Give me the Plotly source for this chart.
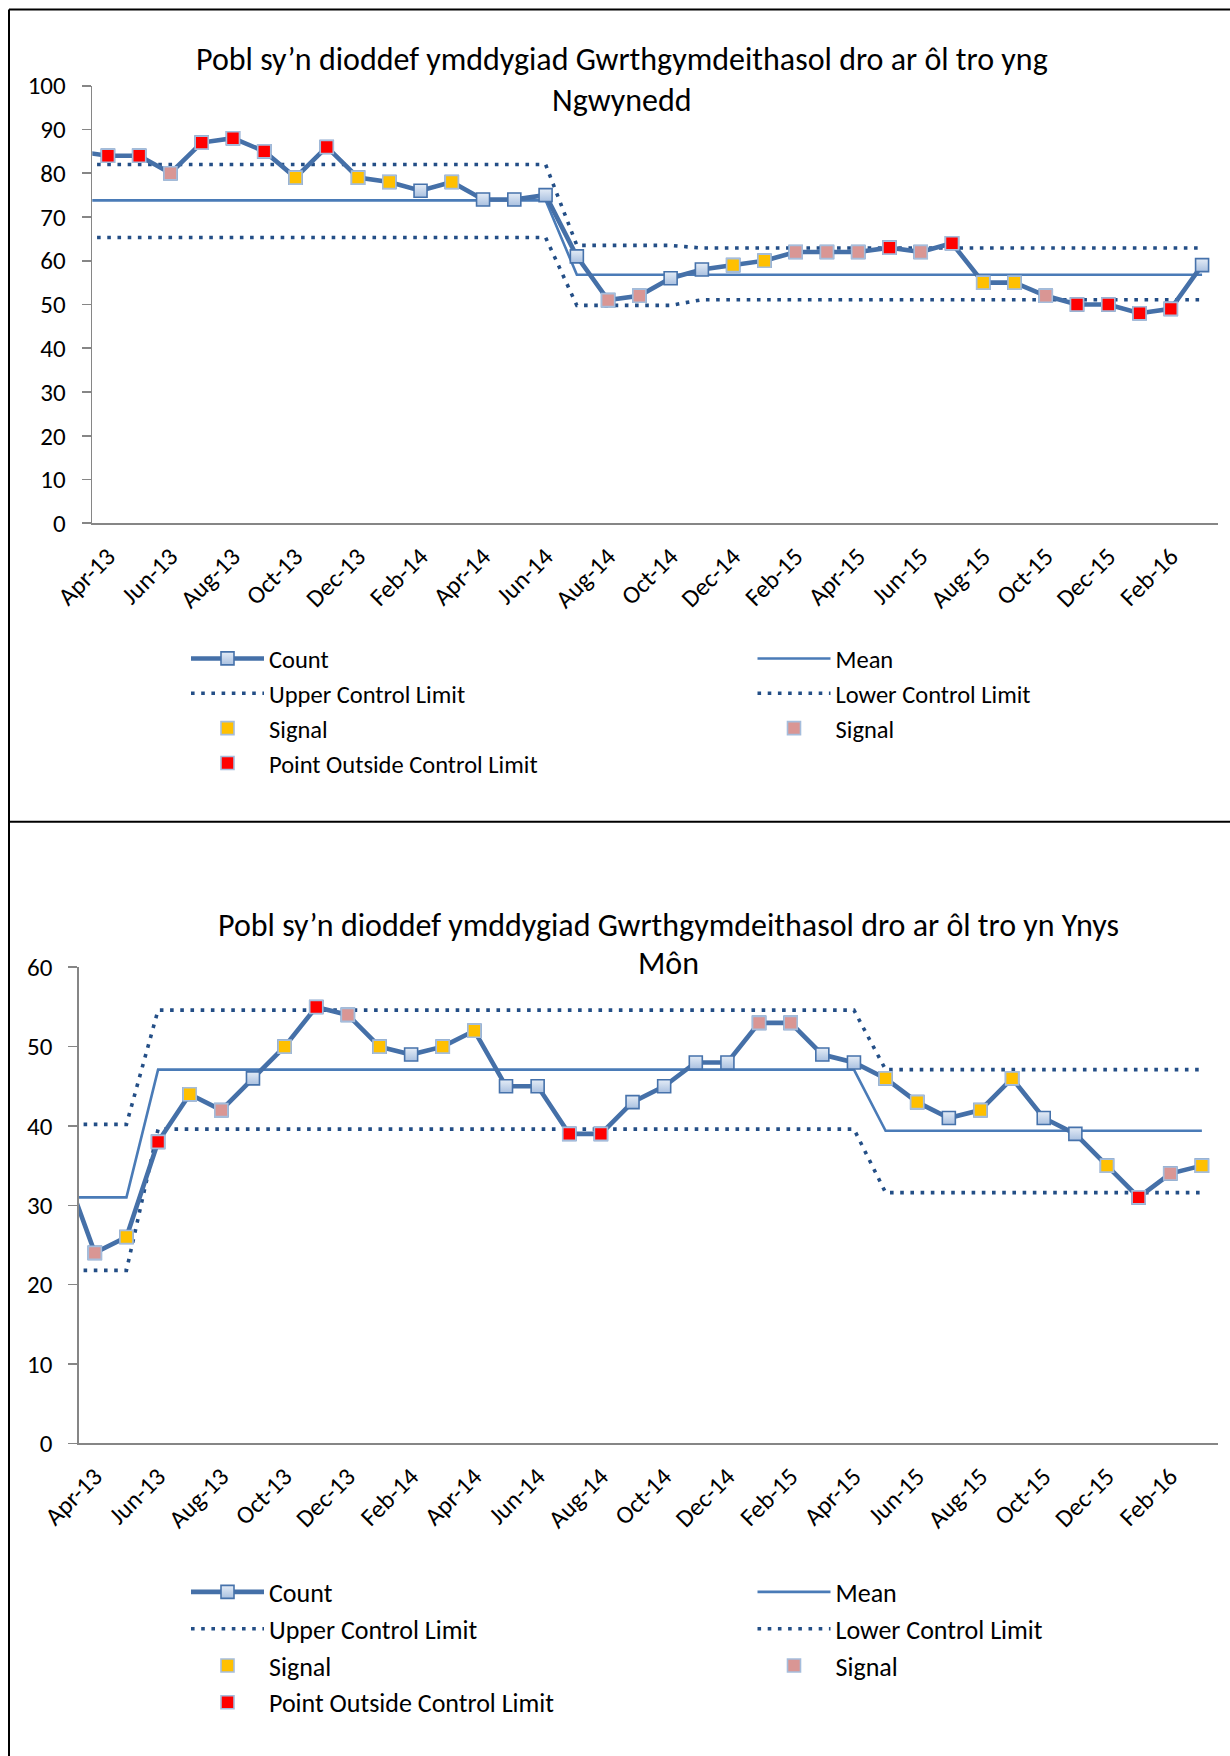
import plotly.graph_objects as go

# ---------------- data ----------------
# first category (Mar-13) is the clipped lead-in point that sits left of the y axis
months = ["Mar-13", "Apr-13", "May-13", "Jun-13", "Jul-13", "Aug-13", "Sep-13", "Oct-13", "Nov-13", "Dec-13",
          "Jan-14", "Feb-14", "Mar-14", "Apr-14", "May-14", "Jun-14", "Jul-14", "Aug-14", "Sep-14", "Oct-14",
          "Nov-14", "Dec-14", "Jan-15", "Feb-15", "Mar-15", "Apr-15", "May-15", "Jun-15", "Jul-15", "Aug-15",
          "Sep-15", "Oct-15", "Nov-15", "Dec-15", "Jan-16", "Feb-16", "Mar-16"]
tick_labels = ["Apr-13", "Jun-13", "Aug-13", "Oct-13", "Dec-13", "Feb-14", "Apr-14", "Jun-14", "Aug-14",
               "Oct-14", "Dec-14", "Feb-15", "Apr-15", "Jun-15", "Aug-15", "Oct-15", "Dec-15", "Feb-16"]

# Gwynedd
count_gwynedd = [85, 84, 84, 80, 87, 88, 85, 79, 86, 79, 78, 76, 78, 74, 74, 75, 61, 51, 52, 56, 58,
                 59, 60, 62, 62, 62, 63, 62, 64, 55, 55, 52, 50, 50, 48, 49, 59]
mean_gwynedd = [73.8] * 16 + [56.8] * 21
ucl_gwynedd = [82.0] * 16 + [63.5] * 4 + [62.9] * 17
lcl_gwynedd = [65.3] * 16 + [49.8] * 4 + [51.1] * 17
# Y = signal (yellow), P = signal (pink), R = point outside control limit, B = plain count
flags_gwynedd = ["", "R", "R", "P", "R", "R", "R", "Y", "R", "Y", "Y", "B", "Y", "B", "B", "B", "B", "P", "P",
                 "B", "B", "Y", "Y", "P", "P", "P", "R", "P", "R", "Y", "Y", "P", "R", "R", "R", "R", "B"]

# Ynys Mon
count_mon = [35, 24, 26, 38, 44, 42, 46, 50, 55, 54, 50, 49, 50, 52, 45, 45, 39, 39, 43, 45, 48,
             48, 53, 53, 49, 48, 46, 43, 41, 42, 46, 41, 39, 35, 31, 34, 35]
mean_mon = [31.0] * 3 + [47.1] * 23 + [39.4] * 11
ucl_mon = [40.2] * 3 + [54.6] * 23 + [47.1] * 11
lcl_mon = [21.8] * 3 + [39.6] * 23 + [31.6] * 11
flags_mon = ["", "P", "Y", "R", "Y", "P", "B", "Y", "R", "P", "Y", "B", "Y", "Y", "B", "B", "R", "R", "B",
             "B", "B", "B", "P", "P", "B", "B", "Y", "Y", "B", "Y", "Y", "B", "B", "Y", "R", "P", "Y"]

titles = [["Pobl sy\u2019n dioddef ymddygiad Gwrthgymdeithasol dro ar ôl tro yng", "Ngwynedd"],
          ["Pobl sy\u2019n dioddef ymddygiad Gwrthgymdeithasol dro ar ôl tro yn Ynys", "Môn"]]

# ---------------- styling ----------------
W, H = 1230, 1756
FONT = "Calibri, Carlito, Lato, sans-serif"
COUNT_C = "#4570A8"
MEAN_C = "#4A7BB7"
LIMIT_C = "#234E86"
AXIS_C = "#868686"
MSIZE = 13
TICK_SIZE = 25
TITLE_SIZE = 32


def px_x(x):
    return x / W


def px_y(y):
    return 1 - y / H


charts = [
    dict(count=count_gwynedd, mean=mean_gwynedd, ucl=ucl_gwynedd, lcl=lcl_gwynedd, flags=flags_gwynedd,
         xa="x", ya="y", legs=("legend", "legend2"), ymax=100,
         xdom=[px_x(92.3), px_x(1217.7)], ydom=[px_y(523.3), px_y(85.7)],
         tcx=622, tcy=[59.8, 100.0], legy=636, legsize=24.5),
    dict(count=count_mon, mean=mean_mon, ucl=ucl_mon, lcl=lcl_mon, flags=flags_mon,
         xa="x2", ya="y2", legs=("legend3", "legend4"), ymax=60,
         xdom=[px_x(79.0), px_x(1217.7)], ydom=[px_y(1443.3), px_y(967.3)],
         tcx=668, tcy=[925.4, 963.5], legy=1568.5, legsize=26),
]

fig = go.Figure()
annotations = []
layout = {}

for i, c in enumerate(charts):
    left_leg, right_leg = c["legs"]
    base = dict(xaxis=c["xa"], yaxis=c["ya"], hoverinfo="skip")
    fig.add_trace(go.Scatter(x=months, y=c["mean"], mode="lines", name="Mean", legend=right_leg,
                             legendrank=2, line=dict(color=MEAN_C, width=2.6), **base))
    fig.add_trace(go.Scatter(x=months, y=c["ucl"], mode="lines", name="Upper Control Limit", legend=left_leg,
                             legendrank=3, line=dict(color=LIMIT_C, width=3.6, dash="3.6px,6.6px"), **base))
    fig.add_trace(go.Scatter(x=months, y=c["lcl"], mode="lines", name="Lower Control Limit", legend=right_leg,
                             legendrank=4, line=dict(color=LIMIT_C, width=3.6, dash="3.6px,6.6px"), **base))
    fig.add_trace(go.Scatter(x=months, y=c["count"], mode="lines+markers", name="Count", legend=left_leg,
                             legendrank=1, line=dict(color=COUNT_C, width=4.6),
                             marker=dict(symbol="square", size=MSIZE, color="#E4ECF6",
                                         gradient=dict(type="vertical", color="#A9C0E0"),
                                         line=dict(color="#4672AB", width=1.6)), **base))
    for flag, name, col, rank, leg in [("Y", "Signal", "#FFC000", 5, left_leg),
                                       ("P", "Signal", "#D99694", 6, right_leg),
                                       ("R", "Point Outside Control Limit", "#FF0000", 7, left_leg)]:
        ys = [v if f == flag else None for v, f in zip(c["count"], c["flags"])]
        fig.add_trace(go.Scatter(x=months, y=ys, mode="markers", name=name, legend=leg, legendrank=rank,
                                 marker=dict(symbol="square", size=MSIZE, color=col,
                                             line=dict(color="#A5BDDC", width=1.6)), **base))

    xkey = "xaxis" if i == 0 else "xaxis2"
    ykey = "yaxis" if i == 0 else "yaxis2"
    layout[xkey] = dict(type="category", domain=c["xdom"], range=[0.5, 36.5], anchor=c["ya"],
                        tickmode="array", tickvals=tick_labels, ticktext=tick_labels, tickangle=-45,
                        tickfont=dict(family=FONT, size=TICK_SIZE, color="black"), ticks="",
                        ticklabelstandoff=7, automargin=False,
                        showline=True, linecolor=AXIS_C, linewidth=1.6, showgrid=False, zeroline=False,
                        fixedrange=True)
    layout[ykey] = dict(domain=c["ydom"], range=[0, c["ymax"]], dtick=10, anchor=c["xa"],
                        ticks="outside", ticklen=9, tickcolor=AXIS_C, tickwidth=1.6,
                        tickfont=dict(family=FONT, size=TICK_SIZE, color="black"), ticklabelstandoff=11,
                        automargin=False,
                        showline=True, linecolor=AXIS_C, linewidth=1.6, showgrid=False, zeroline=False,
                        fixedrange=True)
    for leg, lx in [(left_leg, 186), (right_leg, 752.5)]:
        layout[leg] = dict(orientation="v", x=px_x(lx), y=px_y(c["legy"]), xanchor="left", yanchor="top",
                           itemwidth=73, traceorder="normal",
                           font=dict(family=FONT, size=c["legsize"], color="black"), bgcolor="rgba(0,0,0,0)",
                           itemclick=False, itemdoubleclick=False)
    for line_text, ty in zip(titles[i], c["tcy"]):
        annotations.append(dict(text=line_text, x=px_x(c["tcx"]), y=px_y(ty), xref="paper", yref="paper",
                                xanchor="center", yanchor="middle", showarrow=False,
                                font=dict(family=FONT, size=TITLE_SIZE, color="black")))

shapes = [
    dict(type="line", xref="paper", yref="paper", x0=px_x(9), x1=px_x(9), y0=px_y(9.5), y1=0,
         line=dict(color="black", width=2)),
    dict(type="line", xref="paper", yref="paper", x0=px_x(9), x1=1, y0=px_y(9.5), y1=px_y(9.5),
         line=dict(color="black", width=2)),
    dict(type="line", xref="paper", yref="paper", x0=px_x(9), x1=1, y0=px_y(821.7), y1=px_y(821.7),
         line=dict(color="black", width=2)),
]

fig.update_layout(width=W, height=H, autosize=False, margin=dict(l=0, r=0, t=0, b=0, autoexpand=False),
                  paper_bgcolor="white", plot_bgcolor="white", showlegend=True,
                  annotations=annotations, shapes=shapes, hovermode=False,
                  font=dict(family=FONT, color="black"), **layout)

fig.write_html("out.html", config={"displayModeBar": False, "staticPlot": True},
               post_script="document.body.style.margin='0';document.body.style.overflow='hidden';")
